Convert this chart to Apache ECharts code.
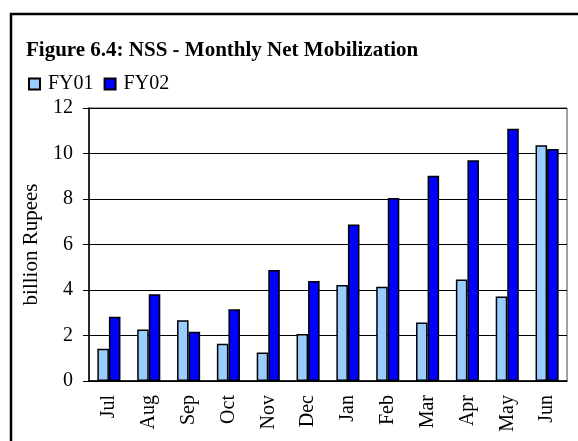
<!DOCTYPE html>
<html>
<head>
<meta charset="utf-8">
<script src="https://cdn.jsdelivr.net/npm/echarts@6/dist/echarts.min.js"></script>
<style>
  html, body { margin: 0; padding: 0; background: #fff; }
  #chart { width: 578px; height: 441px; }
</style>
</head>
<body>
<div id="chart"></div>
<script>
// months of the fiscal year
var months = ['Jul', 'Aug', 'Sep', 'Oct', 'Nov', 'Dec', 'Jan', 'Feb', 'Mar', 'Apr', 'May', 'Jun']
// billion Rupees
var fy01 = [1.42, 2.26, 2.67, 1.64, 1.25, 2.07, 4.22, 4.14, 2.57, 4.46, 3.71, 10.36]
var fy02 = [2.82, 3.81, 2.17, 3.15, 4.88, 4.40, 6.88, 8.04, 9.02, 9.70, 11.09, 10.20]

var serif = '"Liberation Serif", "Times New Roman", serif'

var chart = echarts.init(document.getElementById('chart'))
chart.setOption({
  animation: false,
  textStyle: { fontFamily: serif, color: '#000' },
  title: {
    text: 'Figure 6.4: NSS - Monthly Net Mobilization',
    left: 26,
    top: 40,
    padding: 0,
    textStyle: { fontFamily: serif, fontSize: 21, fontWeight: 'bold', color: '#000' }
  },
  legend: {
    data: ['FY01', 'FY02'],
    left: 28,
    top: 74,
    padding: 0,
    icon: 'rect',
    itemWidth: 11,
    itemHeight: 11,
    itemGap: 10,
    textStyle: { fontFamily: serif, fontSize: 20, color: '#000', padding: [0, 0, 0, 3] }
  },
  graphic: [{
    type: 'rect',
    shape: { x: 11, y: 14, width: 700, height: 600 },
    style: { fill: null, stroke: '#000', lineWidth: 2.5 },
    silent: true
  }],
  grid: {
    left: 89,
    right: 11,
    top: 108,
    bottom: 60,
    show: true,
    borderColor: '#444',
    borderWidth: 1
  },
  xAxis: {
    type: 'category',
    data: months,
    axisLine: { lineStyle: { color: '#000', width: 1.5 } },
    axisTick: { length: 5, lineStyle: { color: '#000' } },
    axisLabel: { rotate: 90, fontSize: 20, fontFamily: serif, color: '#000', margin: 14 }
  },
  yAxis: {
    type: 'value',
    min: 0,
    max: 12,
    interval: 2,
    name: 'billion Rupees',
    nameLocation: 'middle',
    nameGap: 40,
    nameTextStyle: { fontFamily: serif, fontSize: 21, color: '#000' },
    axisLine: { show: true, lineStyle: { color: '#000', width: 1.5 } },
    axisTick: { show: true, length: 6, lineStyle: { color: '#000' } },
    axisLabel: { fontSize: 20, fontFamily: serif, color: '#000', margin: 16 },
    splitLine: { lineStyle: { color: '#000', width: 1 } }
  },
  series: [
    {
      name: 'FY01',
      type: 'bar',
      data: fy01,
      barGap: 0,
      barCategoryGap: '42%',
      itemStyle: { color: '#99CCFF', borderColor: '#000', borderWidth: 1.5 }
    },
    {
      name: 'FY02',
      type: 'bar',
      data: fy02,
      itemStyle: { color: '#0000FF', borderColor: '#000', borderWidth: 1.5 }
    }
  ]
})
</script>
</body>
</html>
